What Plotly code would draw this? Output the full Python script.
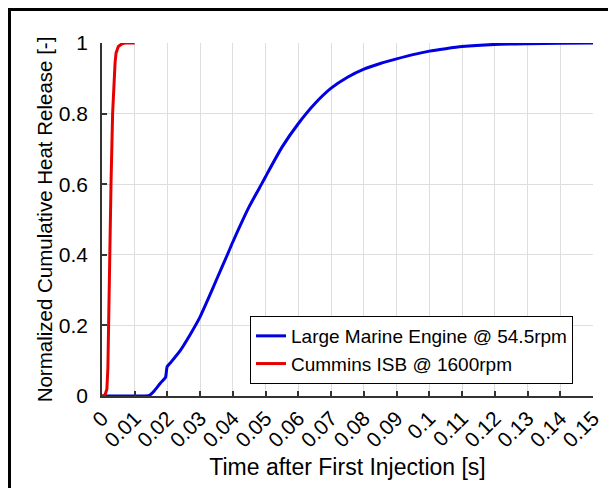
import plotly.graph_objects as go

# Large Marine Engine @ 54.5rpm
t_blue = [0, 0.005, 0.010, 0.0145, 0.016, 0.0178, 0.0194, 0.0199, 0.021, 0.024, 0.027,
          0.030, 0.0321, 0.035, 0.0382, 0.040, 0.045, 0.0489, 0.050, 0.055, 0.060,
          0.065, 0.070, 0.075, 0.080, 0.085, 0.090, 0.095, 0.100, 0.105, 0.110, 0.120,
          0.130, 0.140, 0.150]
v_blue = [0, 0, 0, 0.002, 0.015, 0.036, 0.053, 0.083, 0.095, 0.130, 0.175,
          0.225, 0.268, 0.330, 0.398, 0.437, 0.537, 0.603, 0.622, 0.705, 0.772,
          0.828, 0.872, 0.903, 0.926, 0.942, 0.955, 0.967, 0.977, 0.984, 0.990, 0.996,
          0.998, 0.999, 1.0]

# Cummins ISB @ 1600rpm
t_red = [0, 0.0005, 0.001, 0.0015, 0.0018, 0.002, 0.0023, 0.00275, 0.00324, 0.0036,
         0.004, 0.0043, 0.005, 0.0061, 0.0071, 0.010]
v_red = [0, 0.0, 0.005, 0.02, 0.08, 0.2, 0.4, 0.6, 0.8, 0.89,
         0.945, 0.972, 0.99, 0.998, 1.0, 1.0]

x_ticks = [0, 0.01, 0.02, 0.03, 0.04, 0.05, 0.06, 0.07, 0.08, 0.09, 0.10, 0.11, 0.12, 0.13, 0.14, 0.15]
x_ticktext = ["0", "0.01", "0.02", "0.03", "0.04", "0.05", "0.06", "0.07", "0.08", "0.09",
              "0.1", "0.11", "0.12", "0.13", "0.14", "0.15"]
y_ticks = [0, 0.2, 0.4, 0.6, 0.8, 1.0]
y_ticktext = ["0", "0.2", "0.4", "0.6", "0.8", "1"]

FONT = "Liberation Sans, Arial, sans-serif"

fig = go.Figure()
fig.add_trace(go.Scatter(x=t_blue, y=v_blue, mode="lines", name="Large Marine Engine @ 54.5rpm",
                         line=dict(color="rgb(0,0,225)", width=3, shape="spline", smoothing=0.6),
                         cliponaxis=False))
fig.add_trace(go.Scatter(x=t_red, y=v_red, mode="lines", name="Cummins ISB @ 1600rpm",
                         line=dict(color="rgb(230,0,0)", width=3), cliponaxis=False))

OFF = 8  # page body margin
W, H = 616 - OFF, 488 - OFF
L, R, T, B = 102 - OFF, 23, 43 - OFF, 92
pw, ph = W - L - R, H - T - B

def px2x(p):
    return (p - OFF - L) / pw

def py2y(p):
    return (H - B - (p - OFF)) / ph

axis_common = dict(showline=True, linecolor="#333333", linewidth=1.5, ticks="inside",
                   ticklen=5, tickwidth=1.5, tickcolor="#333333", showgrid=True,
                   gridcolor="#dedede", gridwidth=1, zeroline=False, mirror=False,
                   tickfont=dict(family=FONT, size=21, color="black"))

fig.update_xaxes(range=[0, 0.15], tickmode="array", tickvals=x_ticks, ticktext=x_ticktext,
                 tickangle=-45,
                 title=dict(text="Time after First Injection [s]",
                            font=dict(family=FONT, size=23, color="black"), standoff=8),
                 **axis_common)
fig.update_yaxes(range=[0, 1], tickmode="array", tickvals=y_ticks, ticktext=y_ticktext,
                 ticklabelstandoff=8,
                 title=dict(text="Normalized Cumulative Heat Release [-]",
                            font=dict(family=FONT, size=20.5, color="black"), standoff=1),
                 **axis_common)

fig.update_layout(
    width=W, height=H,
    margin=dict(l=L, r=R, t=T, b=B, autoexpand=False),
    paper_bgcolor="white", plot_bgcolor="white",
    font=dict(family=FONT, color="black"),
    showlegend=True,
    legend=dict(x=px2x(573), y=py2y(384), xanchor="right", yanchor="bottom",
                bgcolor="white", bordercolor="black", borderwidth=1,
                font=dict(family=FONT, size=19, color="black"),
                tracegroupgap=0, itemwidth=30),
    shapes=[
        dict(type="line", xref="paper", yref="paper", x0=px2x(9.5), x1=px2x(640),
             y0=py2y(9.5), y1=py2y(9.5), line=dict(color="black", width=3)),
        dict(type="line", xref="paper", yref="paper", x0=px2x(9.5), x1=px2x(9.5),
             y0=py2y(8), y1=py2y(510), line=dict(color="black", width=3)),
    ],
)

fig.write_html("out.html")
